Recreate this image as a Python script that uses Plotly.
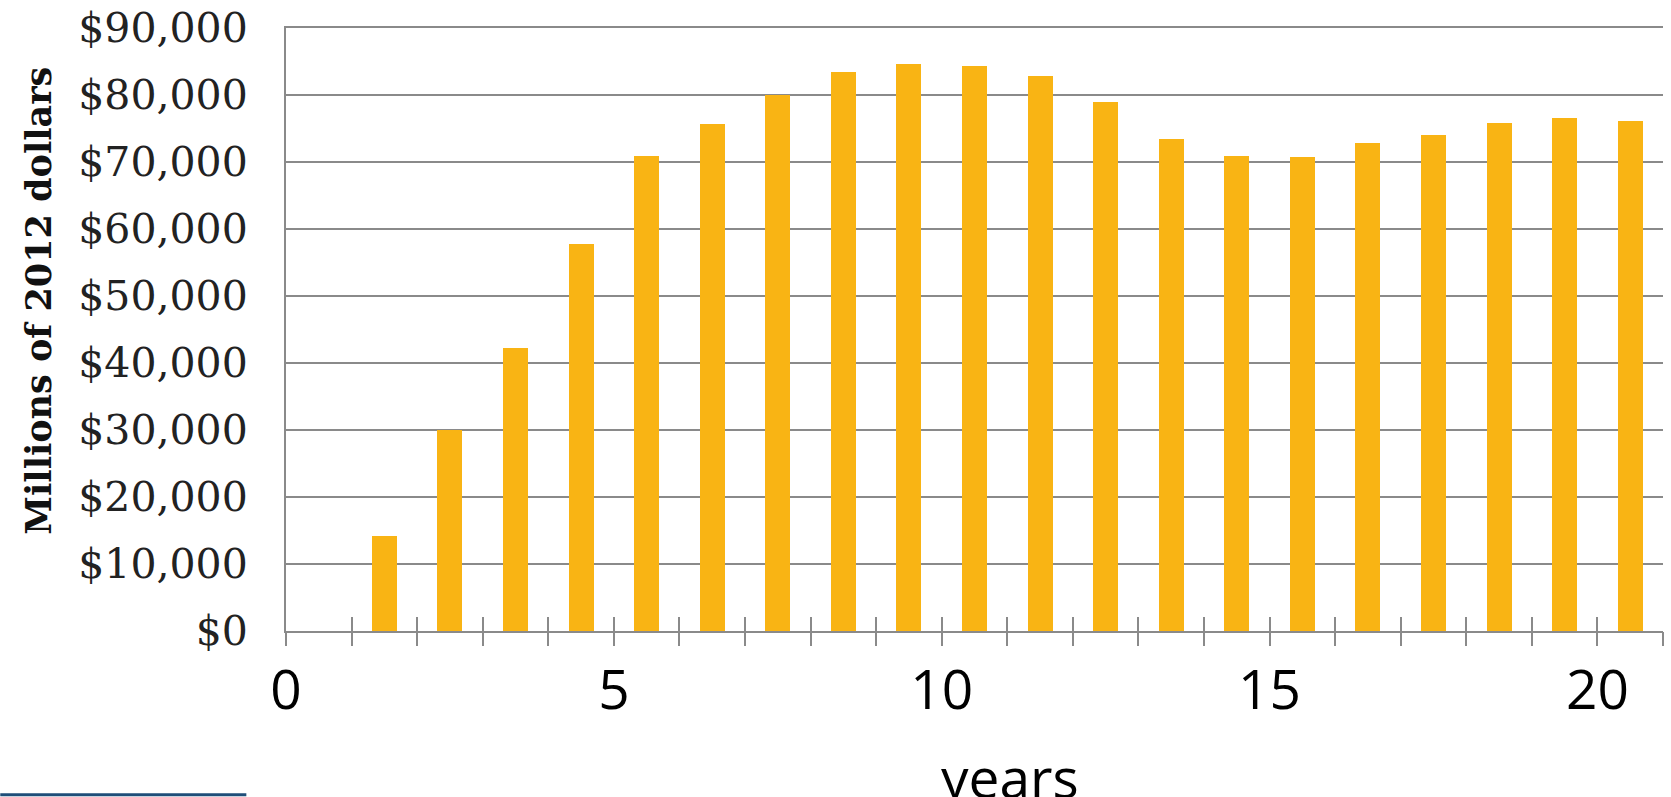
import plotly.graph_objects as go

# Annual values, millions of 2012 dollars, bars centred between year ticks
years = [1.5, 2.5, 3.5, 4.5, 5.5, 6.5, 7.5, 8.5, 9.5, 10.5,
         11.5, 12.5, 13.5, 14.5, 15.5, 16.5, 17.5, 18.5, 19.5, 20.5]
values = [14200, 30000, 42200, 57800, 70900, 75700, 80000, 83500, 84600, 84300,
          82800, 79000, 73500, 70900, 70700, 72900, 74100, 75800, 76500, 76100]

y_tickvals = [0, 10000, 20000, 30000, 40000, 50000, 60000, 70000, 80000, 90000]
y_ticktext = ["$0", "$10,000", "$20,000", "$30,000", "$40,000", "$50,000",
              "$60,000", "$70,000", "$80,000", "$90,000"]
x_tickvals = list(range(0, 22))
x_ticktext = [str(v) if v % 5 == 0 else "" for v in x_tickvals]

BAR = "#F9B414"
GRID = "#8a8a8a"

fig = go.Figure()
fig.add_trace(go.Bar(x=years, y=values, width=0.38,
                     marker=dict(color=BAR, line=dict(width=0)),
                     xaxis="x", yaxis="y"))

fig.update_layout(
    width=1671, height=797,
    margin=dict(l=286, r=8, t=28, b=166, autoexpand=False),
    paper_bgcolor="white", plot_bgcolor="white",
    showlegend=False,
    bargap=0,
    # main x axis: upper half of the crossing tick marks, labels, and the top border line
    xaxis=dict(range=[0, 21], tickmode="array", tickvals=x_tickvals, ticktext=x_ticktext,
               ticks="inside", ticklen=14, tickwidth=2, tickcolor=GRID,
               showline=True, linecolor=GRID, linewidth=2, mirror=True,
               showgrid=False, zeroline=False, automargin=False,
               tickfont=dict(family="Open Sans", size=55, color="black"),
               ticklabelstandoff=10),
    # overlaid axis supplies the lower half of the crossing tick marks
    xaxis2=dict(range=[0, 21], tickmode="array", tickvals=x_tickvals,
                ticks="outside", ticklen=14, tickwidth=2, tickcolor=GRID,
                showticklabels=False, showline=False, showgrid=False, zeroline=False,
                overlaying="x", anchor="y", side="bottom", automargin=False),
    yaxis=dict(range=[0, 90000], tickmode="array", tickvals=y_tickvals, ticktext=y_ticktext,
               showgrid=True, gridcolor=GRID, gridwidth=2,
               showline=True, linecolor=GRID, linewidth=2,
               zeroline=False, ticks="", automargin=False,
               tickfont=dict(family="DejaVu Serif", size=41, color="#222222"),
               ticklabelstandoff=28),
    annotations=[
        dict(text="Millions of 2012 dollars", xref="paper", yref="paper",
             x=-0.18, y=0.548, textangle=-90, showarrow=False,
             xanchor="center", yanchor="middle",
             font=dict(family="DejaVu Serif", size=35, color="#111111", weight="bold")),
        dict(text="years", xref="paper", yref="paper",
             x=0.5255, y=-0.241, showarrow=False,
             xanchor="center", yanchor="middle",
             font=dict(family="Open Sans", size=55, color="black")),
    ],
    shapes=[
        dict(type="line", xref="paper", yref="paper",
             x0=-0.2075, x1=-0.0288, y0=-0.2715, y1=-0.2715,
             line=dict(color="#1F4E79", width=3)),
    ],
)
fig.add_trace(go.Scatter(x=[], y=[], xaxis="x2", yaxis="y", showlegend=False))

fig.write_html("out.html")
